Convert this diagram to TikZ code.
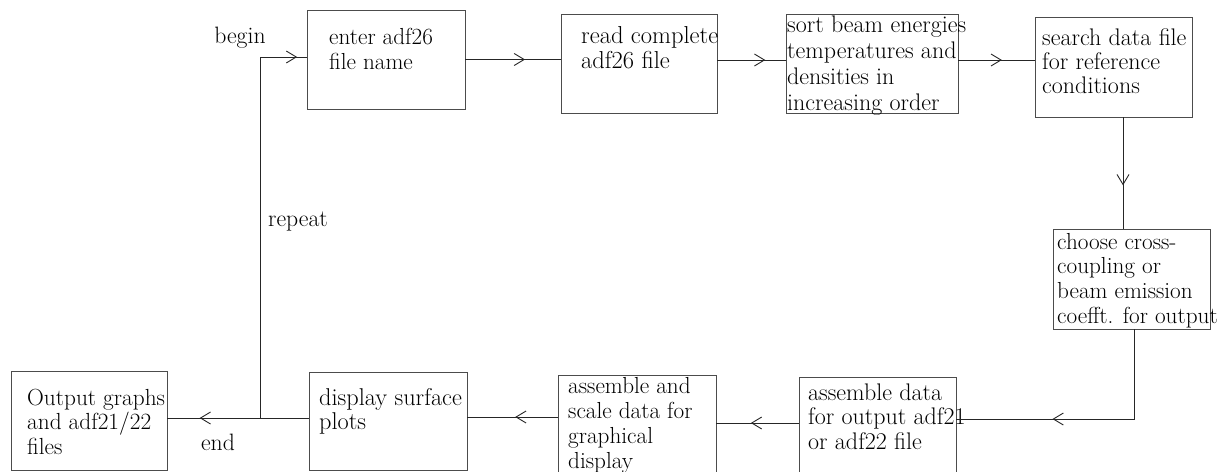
\documentclass[tikz,border=0pt]{standalone}
\usetikzlibrary{arrows.meta,decorations.markings}
\tikzset{
  box/.style={draw=black!70, line width=0.9pt, inner sep=0pt, outer sep=0pt, anchor=north west},
  txt/.style={anchor=base west, inner sep=0pt, align=left, font=\fontsize{#1}{24.7}\selectfont},
  lbl/.style={inner sep=0pt, font=\fontsize{23.7}{24.7}\selectfont},
  conn/.style={draw=black!85, line width=0.9pt},
  tipat/.style={postaction={decorate}, decoration={markings, mark=at position #1 with {\arrow{Straight Barb[length=10pt,width=12pt]}}}}
}
\begin{document}
\begin{tikzpicture}[x=1pt,y=-1pt]
\useasboundingbox (0,0) rectangle (1220,471);
% boxes
\node[box, minimum width=158, minimum height=99] (enter) at (307,10) {};
\node[box, minimum width=156, minimum height=99] (read) at (561,14) {};
\node[box, minimum width=172, minimum height=99] (sort) at (786,14) {};
\node[box, minimum width=157, minimum height=100] (search) at (1035,17) {};
\node[box, minimum width=157, minimum height=100] (choose) at (1053,229) {};
\node[box, minimum width=156, minimum height=99] (output) at (11,371) {};
\node[box, minimum width=158, minimum height=98] (display) at (309,372) {};
\node[box, minimum width=158, minimum height=100] (scale) at (558,375) {};
\node[box, minimum width=157, minimum height=100] (adata) at (799,377) {};
% texts (anchored at the baseline of their last line)
\node[txt=23.2] (tenter) at (329,69.6) {enter adf26\\file name};
\node[txt=24.5] (tread) at (581,68) {read complete\\adf26 file};
\node[txt=24, font=\fontsize{24}{26}\selectfont] (tsort) at (787,110.2) {sort beam energies\\temperatures and\\densities in\\increasing order};
\node[txt=24, font=\fontsize{24}{24}\selectfont] (tsearch) at (1042,93.2) {search data file\\for reference\\conditions};
\node[txt=23.2] (tchoose) at (1057,323.1) {choose cross-\\coupling or\\beam emission\\coefft. for output};
\node[txt=23.3] (toutput) at (27,454.4) {Output graphs\\and adf21/22\\files};
\node[txt=24.3] (tdisplay) at (319,429.9) {display surface\\plots};
\node[txt=23.2] (tscale) at (568,468) {assemble and\\scale data for\\graphical\\display};
\node[txt=24] (tadata) at (808,449.6) {assemble data\\for output adf21\\or adf22 file};
% labels
\node[lbl] (begin) at (240,38) {begin};
\node[lbl] (repeat) at (298,222) {repeat};
\node[lbl] (end) at (218,442) {end};
% connectors
\coordinate (jn) at (260,418);
\coordinate (topc) at (260,57);
\coordinate (sc) at ([xshift=9.5pt]search.south);
\draw[conn, tipat=0.625] (enter.east) -- (enter.east -| read.west);
\draw[conn, tipat=0.70] ([yshift=3.5pt]read.east) -- ([yshift=3.5pt]read.east -| sort.west);
\draw[conn, tipat=0.57] ([yshift=3.5pt]sort.east) -- ([yshift=3.5pt]sort.east -| search.west);
\draw[conn, tipat=0.61] (sc) -- (sc |- choose.north);
\draw[conn, tipat=0.64] ([xshift=2.5pt]choose.south) |- ([yshift=8pt]adata.east);
\draw[conn, tipat=0.58] ([yshift=4pt]adata.west) -- ([yshift=4pt]adata.west -| scale.east);
\draw[conn, tipat=0.47] ([yshift=8pt]scale.west) -- ([yshift=8pt]scale.west -| display.east);
\draw[conn, tipat=0.77] ([yshift=3pt]display.west) -- ([yshift=3pt]display.west -| output.east);
\draw[conn] (jn) -- (topc);
\draw[conn, tipat=0.79] (topc) -- (topc -| enter.west);
\end{tikzpicture}
\end{document}
